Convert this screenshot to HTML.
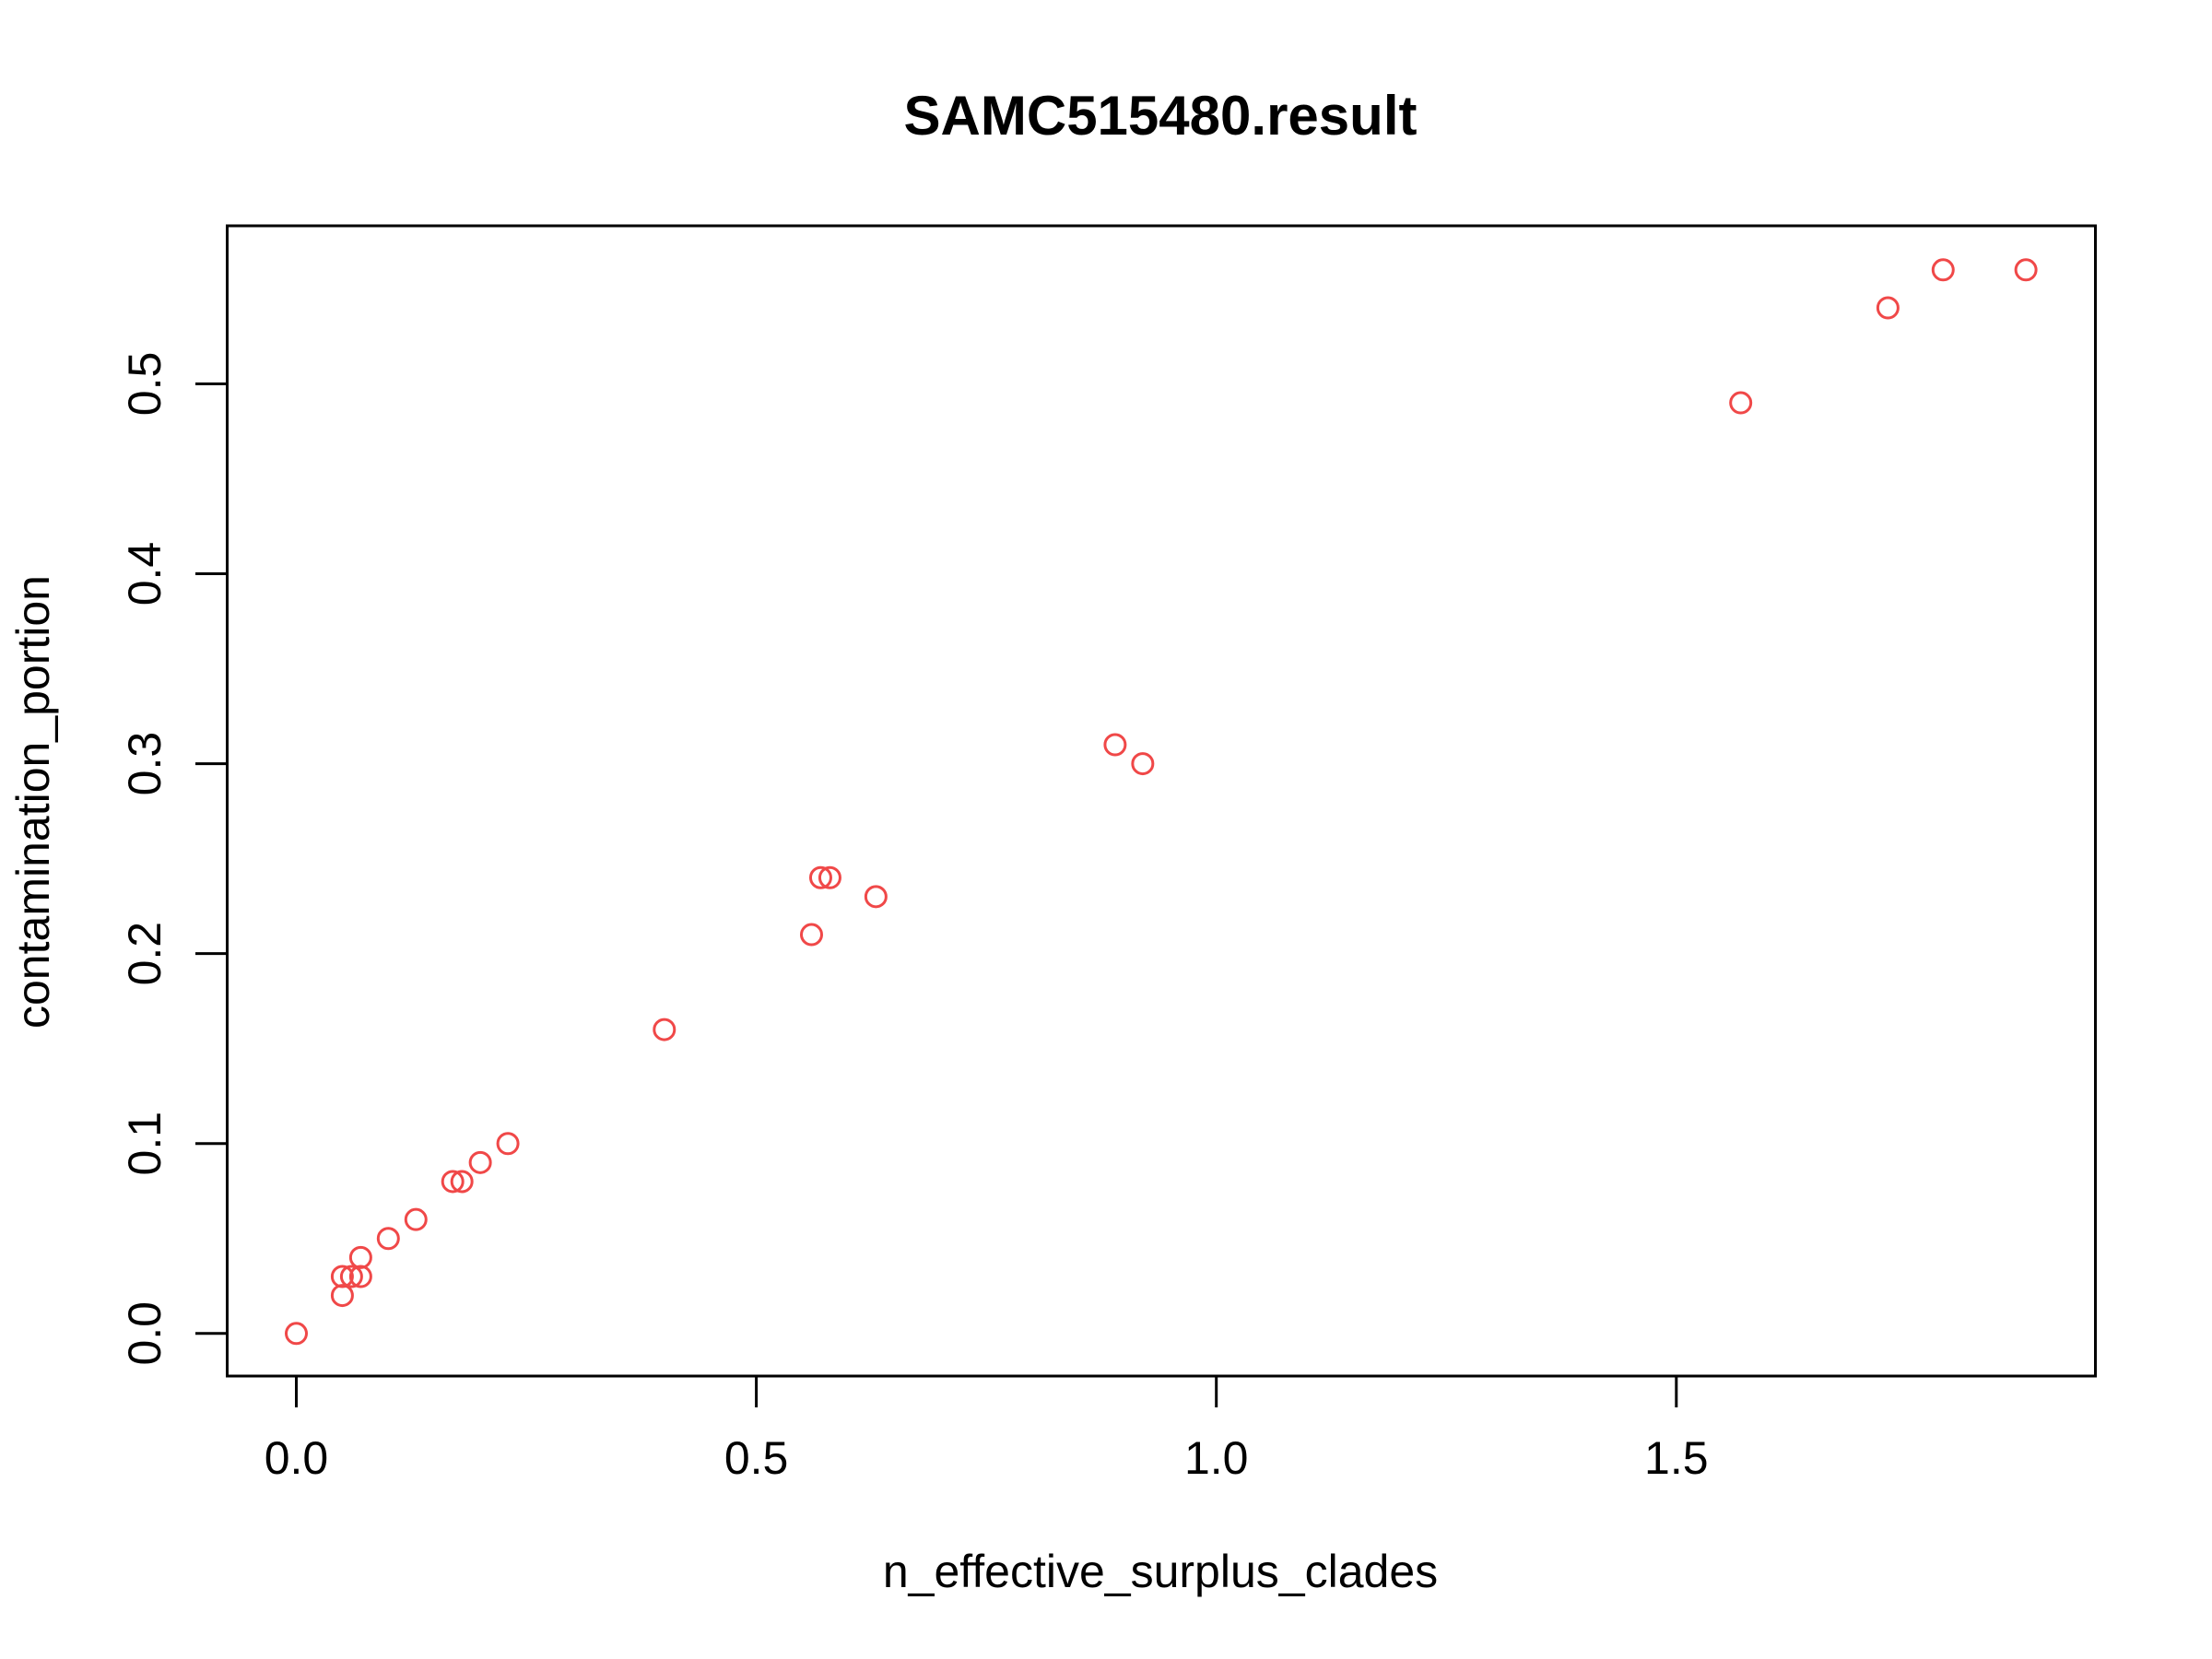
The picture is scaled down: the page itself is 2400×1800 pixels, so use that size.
<!DOCTYPE html>
<html><head><meta charset="utf-8"><style>
html,body{margin:0;padding:0;background:#fff;}
svg{display:block;font-family:"Liberation Sans",Arial,sans-serif;}
</style></head><body>
<svg id="chart" width="2400" height="1800" viewBox="0 0 2400 1800" xmlns="http://www.w3.org/2000/svg">
<rect x="0" y="0" width="2400" height="1800" fill="#fff"/>
<text x="1259" y="146" font-size="60" font-weight="bold" text-anchor="middle">SAMC515480.result</text>
<rect x="246.5" y="245" width="2027" height="1248" fill="none" stroke="#000" stroke-width="3"/>
<text x="1259" y="1722" font-size="50" text-anchor="middle">n_effective_surplus_clades</text>
<text transform="translate(53,870) rotate(-90)" font-size="50" text-anchor="middle">contamination_portion</text>
<g id="xticks"></g>
<g id="yticks"></g>
<g id="points"></g>
</svg>
<script>
const xValues = [0, 0.05, 0.05, 0.06, 0.07, 0.07, 0.10, 0.13, 0.17, 0.18, 0.20, 0.23, 0.40, 0.56, 0.57, 0.58, 0.63, 0.89, 0.92, 1.57, 1.73, 1.79, 1.88];
const yValues = [0, 0.02, 0.03, 0.03, 0.03, 0.04, 0.05, 0.06, 0.08, 0.08, 0.09, 0.10, 0.16, 0.21, 0.24, 0.24, 0.23, 0.31, 0.30, 0.49, 0.54, 0.56, 0.56];
const xTickValues = [0, 0.5, 1.0, 1.5];
const xTickLabels = ["0.0", "0.5", "1.0", "1.5"];
const yTickValues = [0, 0.1, 0.2, 0.3, 0.4, 0.5];
const yTickLabels = ["0.0", "0.1", "0.2", "0.3", "0.4", "0.5"];

const NS = "http://www.w3.org/2000/svg";
function xScale(v){ return 321.5 + v * 998.2; }
function yScale(v){ return 1446.8 - v * 2060.7; }
function mk(tag, attrs, parent){
  const e = document.createElementNS(NS, tag);
  for (const k in attrs) e.setAttribute(k, attrs[k]);
  parent.appendChild(e);
  return e;
}
const xg = document.getElementById('xticks');
xTickValues.forEach((v, i) => {
  const x = xScale(v);
  const l = mk('line', {x1:x, x2:x, y1:1493, y2:1527, stroke:'#000', 'stroke-width':3}, xg);
  
  
  const t = mk('text', {x:x, y:1599, 'font-size':50, 'text-anchor':'middle'}, xg);
  t.textContent = xTickLabels[i];
  
  
});
const yg = document.getElementById('yticks');
yTickValues.forEach((v, i) => {
  const y = yScale(v);
  const l = mk('line', {x1:212, x2:246.5, y1:y, y2:y, stroke:'#000', 'stroke-width':3}, yg);
  
  
  const t = mk('text', {'font-size':50, 'text-anchor':'middle', transform:'translate(174,' + y + ') rotate(-90)'}, yg);
  t.textContent = yTickLabels[i];
  
  
});
const pg = document.getElementById('points');
xValues.forEach((v, i) => {
  const c = mk('circle', {cx:xScale(v), cy:yScale(yValues[i]), r:11, fill:'none', stroke:'#f04848', 'stroke-width':3}, pg);
  
  
});
</script>
</body></html>
